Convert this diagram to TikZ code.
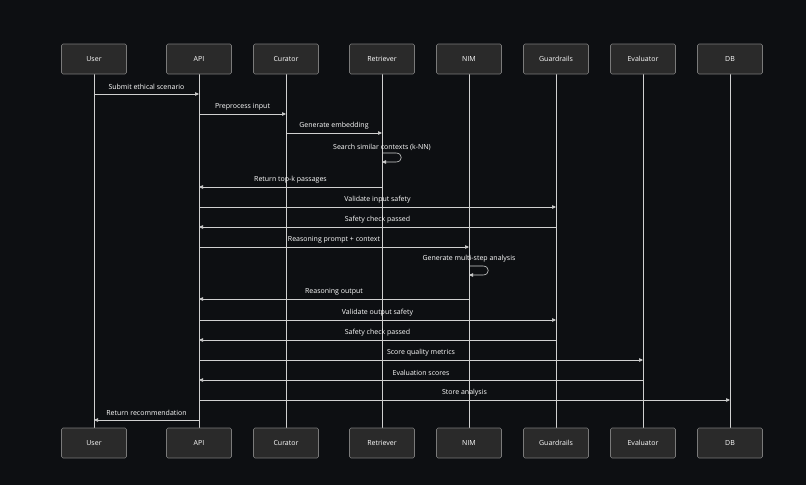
\documentclass[tikz,border=0pt]{standalone}
\usepackage{fontspec}
\setmainfont{Open Sans}
\usetikzlibrary{arrows.meta}
\definecolor{bg}{HTML}{0D0F12}
\definecolor{boxf}{HTML}{2A2A2A}
\definecolor{boxd}{HTML}{7A7A7A}
\definecolor{ln}{HTML}{D0D0D0}
\begin{document}
\begin{tikzpicture}[x=1pt,y=-1pt,
  actor/.style={draw=boxd,fill=boxf,rounded corners=1.5pt,minimum width=65pt,minimum height=30pt,text=white,font=\fontsize{7}{8}\selectfont,line width=0.6pt},
  life/.style={draw=ln,line width=0.6pt},
  msg/.style={draw=ln,line width=0.6pt,-{Triangle[length=4pt,width=3.5pt]}},
  lbl/.style={text=white,font=\fontsize{7}{8}\selectfont,inner sep=1pt}]
\fill[bg] (0,0) rectangle (806,485);
\useasboundingbox (0,0) rectangle (806,485);
\foreach \n/\t/\x in {u/User/94,a/API/199,c/Curator/286,r/Retriever/382,n/NIM/469,g/Guardrails/556,e/Evaluator/643,d/DB/730}{
  \draw[life] (\x,74) -- (\x,428);
  \node[actor] (\n t) at (\x,59) {\t};
  \node[actor] (\n b) at (\x,443) {\t};
}
\newcommand\msgarrow[4]{% from x, to x, y, text
  \coordinate (s) at (#1,#3); \coordinate (e) at (#2,#3);
  \draw[msg] (s) -- (e);
  \node[lbl] at ({(#1+#2)/2},#3-7) {#4};}
\msgarrow{94}{199}{94}{Submit ethical scenario}
\msgarrow{199}{286}{114}{Preprocess input}
\msgarrow{286}{382}{133}{Generate embedding}
\node[lbl] at (382,147) {Search similar contexts (k-NN)};
\coordinate (l1a) at (382,153); \coordinate (l1b) at (382,162);
\draw[msg] (l1a) -- (396,153) .. controls (403,153) and (403,162) .. (396,162) -- (l1b);
\msgarrow{382}{199}{187}{Return top-k passages}
\msgarrow{199}{556}{207}{Validate input safety}
\msgarrow{556}{199}{227}{Safety check passed}
\msgarrow{199}{469}{247}{Reasoning prompt + context}
\node[lbl] at (469,259) {Generate multi-step analysis};
\coordinate (l2a) at (469,266); \coordinate (l2b) at (469,275);
\draw[msg] (l2a) -- (483,266) .. controls (490,266) and (490,275) .. (483,275) -- (l2b);
\msgarrow{469}{199}{299}{Reasoning output}
\msgarrow{199}{556}{320}{Validate output safety}
\msgarrow{556}{199}{340}{Safety check passed}
\msgarrow{199}{643}{360}{Score quality metrics}
\msgarrow{643}{199}{380}{Evaluation scores}
\msgarrow{199}{730}{400}{Store analysis}
\msgarrow{199}{94}{420}{Return recommendation}
\end{tikzpicture}
\end{document}
